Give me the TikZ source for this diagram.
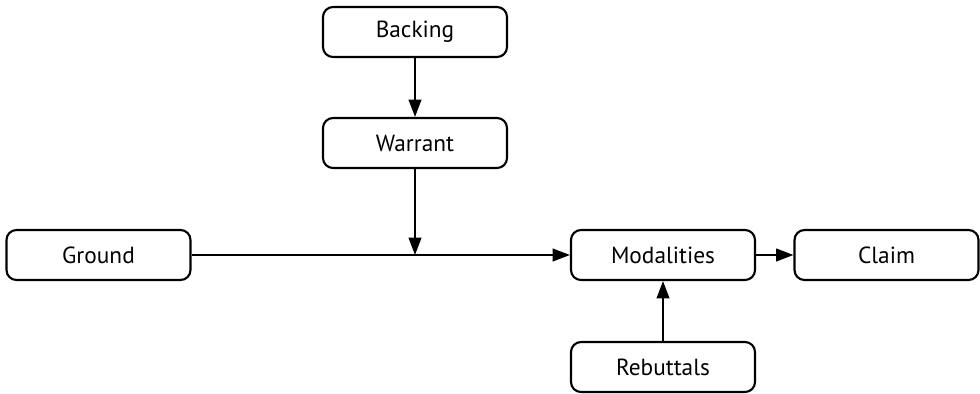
\documentclass[tikz,border=0pt]{standalone}
\usepackage{fontspec}
\setmainfont{PT Sans}
\usetikzlibrary{arrows.meta}
\begin{document}
\begin{tikzpicture}[x=0.75pt,y=-0.75pt,
  stepbox/.style={draw, line width=1.6pt, rounded corners=7.5pt,
    minimum width=138pt, minimum height=37.5pt, inner sep=0pt,
    font=\fontsize{17.5}{20}\selectfont},
  link/.style={line width=1.5pt, -{Triangle[length=13pt,width=9.5pt]}}]
\useasboundingbox (0,0) rectangle (980,393);
\node[stepbox] (backing)   at (415,32)  {Backing};
\node[stepbox] (warrant)   at (415,143) {Warrant};
\node[stepbox] (ground)    at (98.5,255) {Ground};
\node[stepbox] (modal)     at (663,255) {Modalities};
\node[stepbox] (claim)     at (886.5,255) {Claim};
\node[stepbox] (rebuttals) at (663,367) {Rebuttals};
\coordinate (join) at (415,255);
\draw[link] (backing) -- (warrant);
\draw[link] (warrant) -- (join);
\draw[link] (ground) -- (modal);
\draw[link] (modal) -- (claim);
\draw[link] (rebuttals) -- (modal);
\end{tikzpicture}
\end{document}
